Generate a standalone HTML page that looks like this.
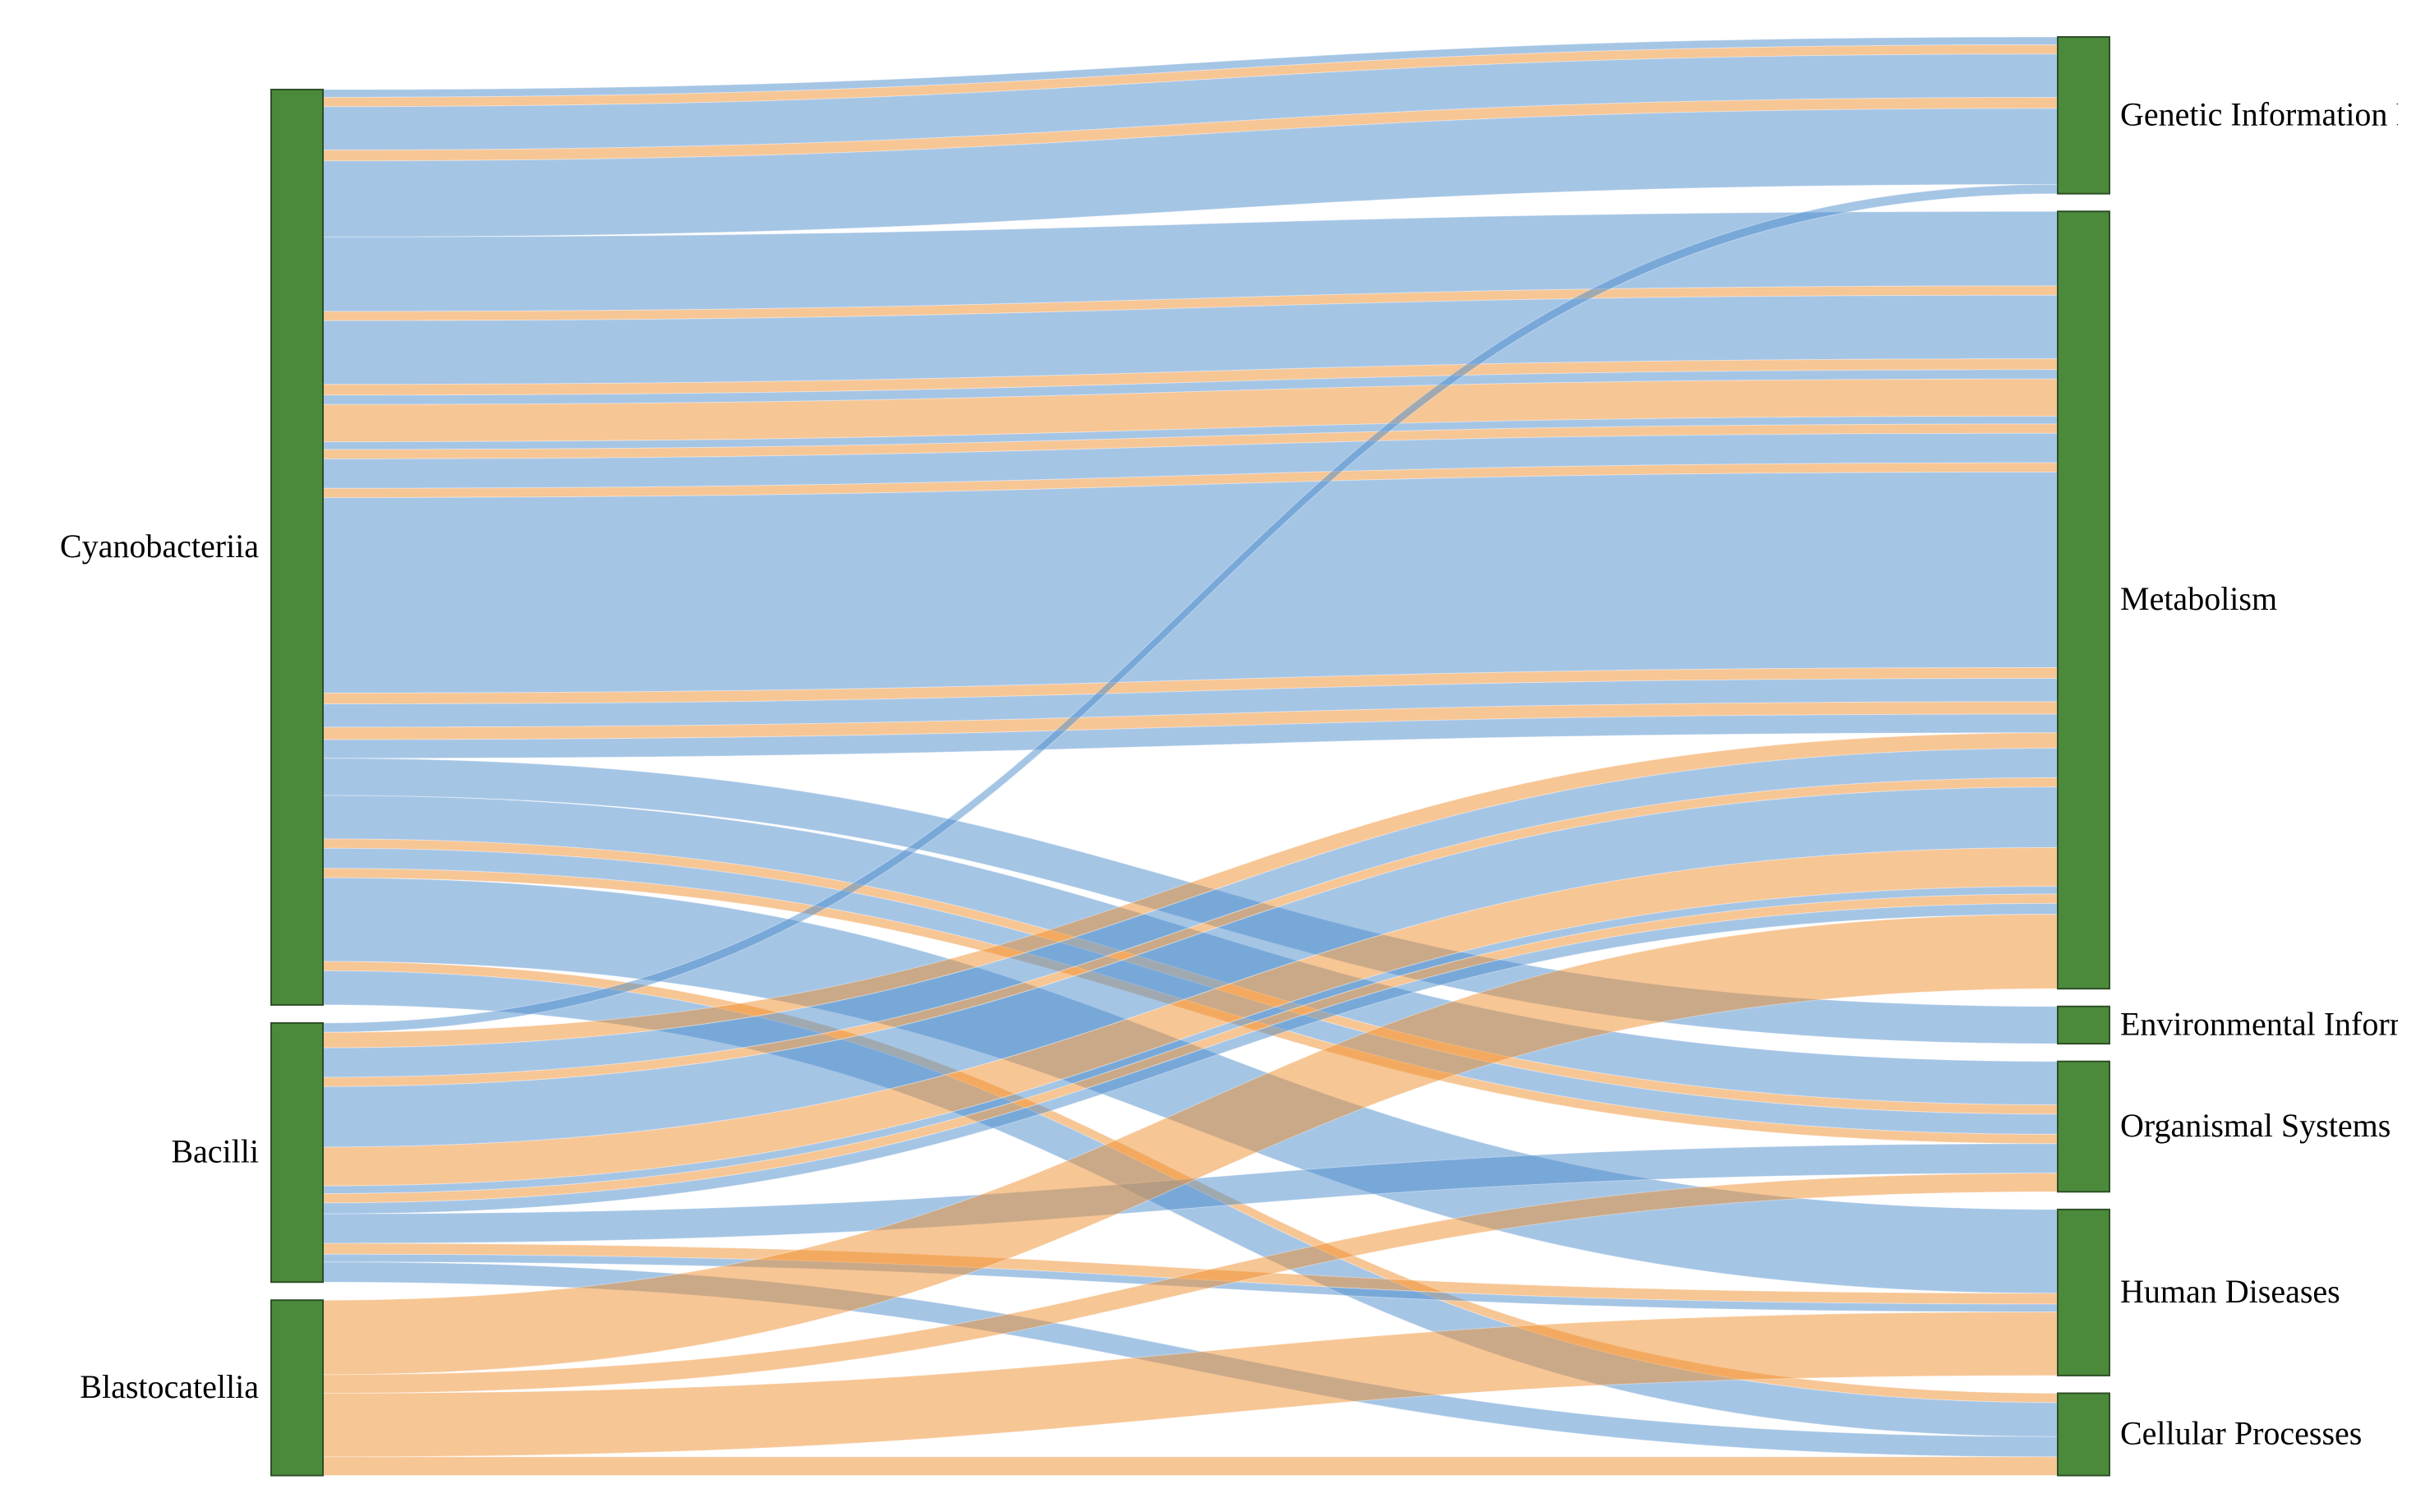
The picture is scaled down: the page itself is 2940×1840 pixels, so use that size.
<!DOCTYPE html>
<html><head><meta charset="utf-8"><style>
html,body{margin:0;padding:0;background:#fff;}
svg{display:block;}
text{font-family:"Liberation Serif",serif;font-size:40px;fill:#000;}
</style></head><body>
<svg id="chart" width="2940" height="1840" viewBox="0 0 2940 1840" xmlns="http://www.w3.org/2000/svg">
<defs><clipPath id="lblclip"><rect x="0" y="0" width="2918" height="1840"/></clipPath></defs>
<g id="links"></g>
<g id="nodes" clip-path="url(#lblclip)"></g>
</svg>
<script>
const sourceNames = ["Cyanobacteriia","Bacilli","Blastocatellia"];
const targetNames = ["Genetic Information Processing","Metabolism","Environmental Information Processing","Organismal Systems","Human Diseases","Cellular Processes"];
// links: source index, target index, value, color group (0 blue,1 orange)
const linkSource = [0,0,0,0,0, 0,0,0,0,0,0,0,0,0,0,0,0,0,0,0, 0, 0,0,0,0, 0, 0,0, 1, 1,1,1,1,1,1,1,1, 1, 1,1, 1, 2,2,2,2];
const linkTarget = [0,0,0,0,0, 1,1,1,1,1,1,1,1,1,1,1,1,1,1,1, 2, 3,3,3,3, 4, 5,5, 0, 1,1,1,1,1,1,1,1, 3, 4,4, 5, 1,3,4,5];
const linkValue  = [5,6,28,7,49, 48,6,41,7,6,24,5,6,19,6,126,7,15,8,12, 24, 28,6,13,6, 54, 6,22, 6, 10,19,6,39,25,5,6,7, 19, 7,5, 13, 48,12,41,12];
const linkColor  = [0,1,0,1,0, 0,1,0,1,0,1,0,1,0,1,0,1,0,1,0, 0, 0,1,0,1, 0, 1,0, 0, 1,0,1,0,1,0,1,0, 0, 1,0, 0, 1,1,1,1];

const NS="http://www.w3.org/2000/svg";
const k = 1.888, pad = 22;
const lx0=330, lx1=393, rx0=2504, rx1=2567;
const colors=["rgba(76,140,204,0.5)","rgba(239,141,43,0.5)"];
const sTot=sourceNames.map((_,i)=>linkValue.reduce((a,v,j)=>a+(linkSource[j]===i?v:0),0));
const tTot=targetNames.map((_,i)=>linkValue.reduce((a,v,j)=>a+(linkTarget[j]===i?v:0),0));
const total=sTot.reduce((a,b)=>a+b,0);
const bottom=109+total*k+pad*(sTot.length-1);
const padR=(bottom-45-total*k)/(tTot.length-1);
const sY=[],tY=[];
let y=109; sTot.forEach((t,i)=>{sY[i]=y;y+=t*k+pad;});
y=45; tTot.forEach((t,i)=>{tY[i]=y;y+=t*k+padR;});
const sOff=sY.slice(), tOff=tY.slice();
const lg=document.getElementById('links');
linkValue.forEach((v,i)=>{
  const s=linkSource[i],t=linkTarget[i],h=v*k;
  const y0=sOff[s],y1=tOff[t]; sOff[s]+=h; tOff[t]+=h;
  const xm=(lx1+rx0)/2;
  const d=`M${lx1},${y0}C${xm},${y0} ${xm},${y1} ${rx0},${y1}L${rx0},${y1+h}C${xm},${y1+h} ${xm},${y0+h} ${lx1},${y0+h}Z`;
  const p=document.createElementNS(NS,'path');
  p.setAttribute('d',d);p.setAttribute('fill',colors[linkColor[i]]);
  p.setAttribute('stroke','rgba(255,255,255,0.35)');p.setAttribute('stroke-width','1');
  
  
  lg.appendChild(p);
});
const ng=document.getElementById('nodes');
function node(x0,x1,y0,h,label,left,name){
  const r=document.createElementNS(NS,'rect');
  r.setAttribute('x',x0);r.setAttribute('y',y0);r.setAttribute('width',x1-x0);r.setAttribute('height',h);
  r.setAttribute('fill','#4b8a3b');r.setAttribute('stroke','#2e4f26');r.setAttribute('stroke-width','2');
  
  
  ng.appendChild(r);
  const tx=document.createElementNS(NS,'text');
  tx.setAttribute('x',left?x0-15:x1+13);tx.setAttribute('y',y0+h/2+12);
  tx.setAttribute('text-anchor',left?'end':'start');tx.textContent=label;
  
  
  ng.appendChild(tx);
}
sourceNames.forEach((n,i)=>node(lx0,lx1,sY[i],sTot[i]*k,n,true,n.toLowerCase()));
targetNames.forEach((n,i)=>node(rx0,rx1,tY[i],tTot[i]*k,n,false,n.toLowerCase().replace(/ /g,'-')));
</script>
</body></html>
